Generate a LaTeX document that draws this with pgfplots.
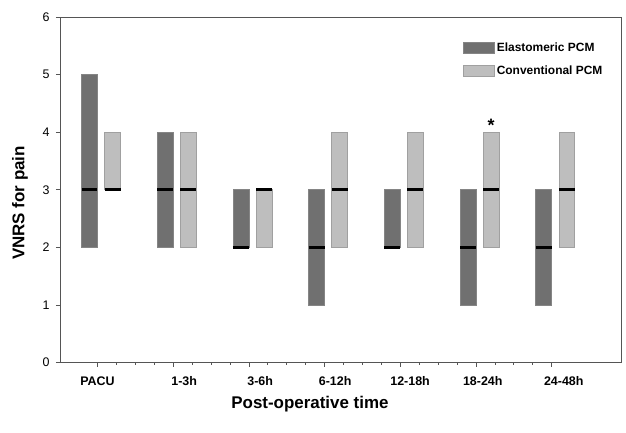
\documentclass[border=0pt]{standalone}
\usepackage{fontspec}
\setmainfont{Liberation Sans}
\usepackage{pgfplots}
\pgfplotsset{compat=1.18}
\usepgfplotslibrary{statistics}

\definecolor{elasto}{HTML}{707070}
\definecolor{elastoedge}{HTML}{858585}
\definecolor{conv}{HTML}{BEBEBE}
\definecolor{convedge}{HTML}{A0A0A0}
\definecolor{axisgray}{HTML}{555555}

\pgfplotsset{
  iqr/.style={
    boxplot/draw direction=y,
    boxplot/box extend=0.21,
    boxplot/every whisker/.style={draw=none},
    boxplot/every median/.style={draw=black, line width=2.8pt},
    line width=0.6pt, mark=none,
  },
  elastobox/.style={iqr, fill=elasto, draw=elastoedge},
  convbox/.style={iqr, fill=conv, draw=convedge},
}

\begin{document}
\begin{tikzpicture}
\useasboundingbox (0,0) rectangle (626bp,433bp);
\begin{axis}[
    at={(60bp,70.5bp)}, anchor=south west,
    scale only axis, width=561.7bp, height=345.5bp,
    xmin=-0.495, xmax=6.925,
    ymin=0, ymax=6,
    xtick={0,1,2,3,4,5,6},
    xticklabels={},
    minor x tick num=3,
    extra x ticks={0,1.145,2.15,3.14,4.13,5.09,6.16},
    extra x tick labels={PACU,1-3h,3-6h,6-12h,12-18h,18-24h,24-48h},
    extra x tick style={major tick length=0pt},
    ytick={0,1,2,3,4,5,6},
    tick pos=left,
    tick align=outside,
    major tick length=4bp,
    minor tick length=2bp,
    every tick/.style={axisgray, line width=0.7pt},
    axis line style={axisgray, line width=0.8pt},
    /pgf/number format/assume math mode=true,
    yticklabel style={font=\fontsize{12.5}{14}\selectfont, xshift=-3bp},
    xticklabel style={font=\bfseries\fontsize{12.5}{14}\selectfont,
      anchor=north, text height=9bp, text depth=0pt, yshift=-10bp},
    xlabel={Post-operative time},
    ylabel={VNRS for pain},
    xlabel style={font=\bfseries\fontsize{17}{19}\selectfont,
      at={(axis description cs:0.445,-0.12)}, anchor=center},
    ylabel style={font=\bfseries\fontsize{17}{19}\selectfont,
      at={(axis description cs:-0.0712,0.4617)}, anchor=center},
    legend image code/.code={\draw[#1] (0bp,-5.5bp) rectangle (31bp,5.5bp);},
    legend cell align=left,
    legend style={at={(axis description cs:0.7175,0.9305)}, anchor=north west,
      draw=none, fill=none, inner sep=0pt, row sep=8.5bp,
      font=\bfseries\fontsize{12}{14}\selectfont},
]
\addlegendimage{fill=elasto, draw=elastoedge, line width=0.6pt}
\addlegendentry{Elastomeric PCM}
\addlegendimage{fill=conv, draw=convedge, line width=0.6pt}
\addlegendentry{Conventional PCM}

% Elastomeric PCM: lower quartile, median, upper quartile
\addplot[elastobox, boxplot prepared={draw position=-0.105, lower whisker=2, lower quartile=2, median=3, upper quartile=5, upper whisker=5}] coordinates {};
\addplot[elastobox, boxplot prepared={draw position=0.895, lower whisker=2, lower quartile=2, median=3, upper quartile=4, upper whisker=4}] coordinates {};
\addplot[elastobox, boxplot prepared={draw position=1.895, lower whisker=2, lower quartile=2, median=2, upper quartile=3, upper whisker=3}] coordinates {};
\addplot[elastobox, boxplot prepared={draw position=2.895, lower whisker=1, lower quartile=1, median=2, upper quartile=3, upper whisker=3}] coordinates {};
\addplot[elastobox, boxplot prepared={draw position=3.895, lower whisker=2, lower quartile=2, median=2, upper quartile=3, upper whisker=3}] coordinates {};
\addplot[elastobox, boxplot prepared={draw position=4.895, lower whisker=1, lower quartile=1, median=2, upper quartile=3, upper whisker=3}] coordinates {};
\addplot[elastobox, boxplot prepared={draw position=5.895, lower whisker=1, lower quartile=1, median=2, upper quartile=3, upper whisker=3}] coordinates {};

% Conventional PCM
\addplot[convbox, boxplot prepared={draw position=0.2, lower whisker=3, lower quartile=3, median=3, upper quartile=4, upper whisker=4}] coordinates {};
\addplot[convbox, boxplot prepared={draw position=1.2, lower whisker=2, lower quartile=2, median=3, upper quartile=4, upper whisker=4}] coordinates {};
\addplot[convbox, boxplot prepared={draw position=2.2, lower whisker=2, lower quartile=2, median=3, upper quartile=3, upper whisker=3}] coordinates {};
\addplot[convbox, boxplot prepared={draw position=3.2, lower whisker=2, lower quartile=2, median=3, upper quartile=4, upper whisker=4}] coordinates {};
\addplot[convbox, boxplot prepared={draw position=4.2, lower whisker=2, lower quartile=2, median=3, upper quartile=4, upper whisker=4}] coordinates {};
\addplot[convbox, boxplot prepared={draw position=5.2, lower whisker=2, lower quartile=2, median=3, upper quartile=4, upper whisker=4}] coordinates {};
\addplot[convbox, boxplot prepared={draw position=6.2, lower whisker=2, lower quartile=2, median=3, upper quartile=4, upper whisker=4}] coordinates {};

\node[font=\bfseries\fontsize{18}{20}\selectfont, anchor=base] at (axis cs:5.2,4.02) {*};
\end{axis}
\end{tikzpicture}
\end{document}
